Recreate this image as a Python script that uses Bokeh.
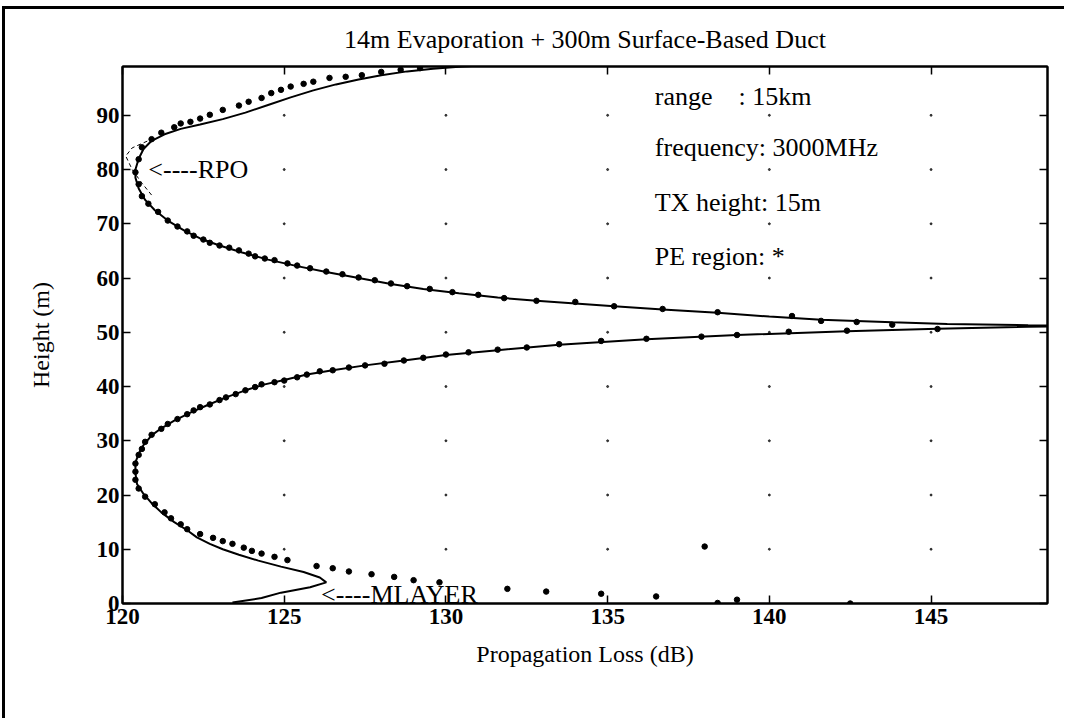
import numpy as np
from bokeh.plotting import figure
from bokeh.models import LinearAxis, FixedTicker, Range1d, Label
from bokeh.embed import file_html
from bokeh.resources import INLINE

# ---------------- data ----------------
title_text = "14m Evaporation + 300m Surface-Based Duct"
x_label = "Propagation Loss (dB)"
y_label = "Height (m)"
x_ticks = [120, 125, 130, 135, 140, 145]
y_ticks = [0, 10, 20, 30, 40, 50, 60, 70, 80, 90]

# hybrid model (solid line): loss (dB) vs height (m)
model_loss = [123.4, 124.3, 124.9, 125.8, 126.3, 126.1, 125.6, 124.9, 124.2, 123.6,
              123.1, 122.7, 122.3, 122.0, 121.6, 121.2, 120.9, 120.65, 120.45, 120.4,
              120.4, 120.5, 120.65, 120.9, 121.2, 121.6, 122.1, 122.6, 123.2, 123.8,
              124.4, 125.0, 125.7, 126.5, 127.5, 128.7, 130.0, 131.6, 133.5, 136.2,
              139.0, 142.4, 145.2, 148.0, 150.0,
              148.0, 145.5, 143.8, 141.6, 140.0, 138.4, 136.7, 135.2, 134.0, 132.8,
              131.6, 130.4, 129.3, 128.3, 127.3, 126.3, 125.4, 124.5, 123.7, 123.0,
              122.4, 121.9, 121.4, 121.0, 120.7, 120.5, 120.4, 120.4, 120.5, 120.65,
              120.9, 121.3, 121.8, 122.4, 123.1, 123.8, 124.5, 125.2, 125.9, 126.6,
              127.3, 128.0, 128.8, 129.6, 130.5, 131.5]
model_height = [0.2, 1.0, 2.0, 3.0, 3.9, 4.8, 5.8, 6.8, 7.9, 9.0,
                10.0, 11.0, 12.2, 13.5, 15.0, 16.8, 18.5, 20.2, 22.0, 24.0,
                26.0, 27.6, 29.2, 31.0, 32.3, 33.7, 35.2, 36.5, 38.0, 39.3,
                40.4, 41.2, 42.2, 43.0, 43.9, 44.8, 45.8, 46.7, 47.7, 48.7,
                49.5, 50.2, 50.65, 51.0, 51.15,
                51.3, 51.55, 51.85, 52.3, 52.9, 53.6, 54.2, 54.8, 55.3, 55.8,
                56.4, 57.2, 58.0, 58.9, 60.0, 61.1, 62.2, 63.4, 64.7, 66.0,
                67.3, 68.8, 70.6, 72.5, 74.4, 76.5, 78.5, 80.0, 82.0, 83.8,
                85.3, 86.5, 87.5, 88.3, 89.3, 90.5, 91.9, 93.3, 94.6, 95.7,
                96.6, 97.4, 98.1, 98.6, 99.0, 99.3]

# RPO (thin dashed) near the upper turning point
rpo_loss = [120.9, 120.6, 120.3, 120.1, 120.3, 120.9]
rpo_height = [75.3, 77.5, 80.0, 82.5, 84.0, 85.6]

# PE region points
pe_loss = [142.5, 139.0, 138.4, 136.5, 134.8, 133.1, 131.9, 129.8, 129.0, 128.4,
           127.7, 127.0, 126.5, 126.0, 125.1, 124.7, 124.3, 124.0, 123.75, 123.4,
           123.1, 122.8, 122.4, 122.0, 121.8, 121.5, 121.3, 121.0, 120.7, 120.5,
           120.4, 120.4, 120.4, 120.5, 120.6, 120.7, 120.9, 121.2, 121.4, 121.7,
           122.0, 122.2, 122.4, 122.7, 123.0, 123.2, 123.5, 123.8, 124.1, 124.3,
           124.7, 125.0, 125.4, 125.7, 126.1, 126.5, 127.0, 127.5, 128.1, 128.7,
           129.3, 130.0, 130.7, 131.6, 132.5, 133.5, 134.8, 136.2, 137.9, 139.0,
           140.6, 142.4, 145.2,
           143.8, 142.7, 141.6, 140.7, 138.4, 136.7, 135.2, 134.0, 132.8, 131.8,
           131.0, 130.2, 129.5, 128.8, 128.3, 127.8, 127.3, 126.8, 126.3, 125.8,
           125.4, 125.1, 124.7, 124.4, 124.1, 123.9, 123.6, 123.3, 123.0, 122.7,
           122.5, 122.2, 122.0, 121.7, 121.4, 121.1, 120.8, 120.6, 120.5, 120.4,
           120.5, 120.6, 120.9, 121.2, 121.6, 121.8, 122.1, 122.4, 122.7, 123.1,
           123.6, 123.9, 124.3, 124.6, 124.9, 125.2, 125.6, 125.9, 126.4, 126.9,
           127.4, 128.0, 128.6, 129.2, 138.0]
pe_height = [0.0, 0.7, 0.1, 1.3, 1.8, 2.2, 2.7, 3.9, 4.3, 4.9,
             5.4, 5.9, 6.5, 6.9, 8.0, 8.6, 9.2, 9.7, 10.3, 11.0,
             11.5, 12.1, 12.8, 13.7, 14.6, 15.7, 16.8, 18.3, 19.7, 21.2,
             22.8, 24.3, 25.8, 27.4, 28.5, 29.8, 31.1, 32.2, 33.1, 34.0,
             34.9, 35.6, 36.2, 36.7, 37.5, 38.0, 38.6, 39.3, 39.9, 40.4,
             40.8, 41.1, 41.7, 42.2, 42.8, 43.0, 43.5, 43.9, 44.2, 44.8,
             45.3, 45.9, 46.3, 46.8, 47.2, 47.8, 48.4, 48.8, 49.2, 49.5,
             50.1, 50.3, 50.6,
             51.4, 51.9, 52.1, 53.0, 53.7, 54.3, 54.8, 55.6, 55.8, 56.3,
             56.9, 57.4, 58.0, 58.5, 59.0, 59.6, 60.1, 60.7, 61.2, 61.8,
             62.3, 62.7, 63.3, 63.6, 64.0, 64.5, 65.1, 65.6, 66.0, 66.5,
             67.1, 67.8, 68.6, 69.5, 70.6, 72.2, 73.7, 75.1, 77.3, 79.5,
             81.9, 84.1, 85.6, 86.8, 87.8, 88.5, 88.8, 89.4, 90.1, 91.0,
             91.8, 92.5, 93.2, 94.1, 94.7, 95.3, 95.8, 96.2, 96.9, 97.1,
             97.4, 98.0, 98.4, 98.7, 10.5]

info_lines = ["range\u00a0\u00a0\u00a0\u00a0: 15km", "frequency: 3000MHz",
              "TX height: 15m", "PE region: *"]
rpo_text = "<----RPO"
mlayer_text = "<----MLAYER"

# ---------------- figure ----------------
FONT = "Liberation Serif"

p = figure(width=1062, height=712, output_backend="svg", toolbar_location=None,
           x_range=Range1d(120, 148.6), y_range=Range1d(0, 99),
           min_border_left=117, min_border_right=20, min_border_top=53,
           min_border_bottom=118, title=title_text)
p.styles = {"margin-top": "6px", "margin-left": "2px",
            "border-top": "3px solid black", "border-left": "3px solid black"}
p.background_fill_color = "white"
p.border_fill_color = "white"
p.outline_line_color = "black"
p.outline_line_width = 2
p.grid.visible = False

p.title.align = "center"
p.title.text_font = FONT
p.title.text_font_size = "26px"
p.title.text_font_style = "normal"
p.title.text_color = "black"
p.title.standoff = 26


def style_axis(ax):
    ax.axis_line_color = "black"
    ax.axis_line_width = 2
    ax.major_tick_in = 8
    ax.major_tick_out = 0
    ax.minor_tick_line_color = None
    ax.major_tick_line_color = "black"
    ax.major_tick_line_width = 1.5
    ax.major_label_text_font = FONT
    ax.major_label_text_font_size = "23px"
    ax.major_label_text_font_style = "bold"
    ax.major_label_text_color = "black"
    ax.axis_label_text_font = FONT
    ax.axis_label_text_font_size = "24px"
    ax.axis_label_text_font_style = "normal"
    ax.axis_label_text_color = "black"


xb = p.xaxis[0]
xb.ticker = FixedTicker(ticks=x_ticks)
xb.axis_label = x_label
style_axis(xb)
xb.major_label_standoff = 5
xb.axis_label_standoff = 14

yl = p.yaxis[0]
yl.ticker = FixedTicker(ticks=y_ticks)
yl.axis_label = y_label
style_axis(yl)
yl.major_label_standoff = 3
yl.axis_label_standoff = 40

xt = LinearAxis(ticker=FixedTicker(ticks=x_ticks),
                major_label_overrides={t: "" for t in x_ticks})
style_axis(xt)
xt.major_label_standoff = 0
p.add_layout(xt, "above")

yr = LinearAxis(ticker=FixedTicker(ticks=y_ticks),
                major_label_overrides={t: "" for t in y_ticks})
style_axis(yr)
yr.major_label_standoff = 0
p.add_layout(yr, "right")

# dotted grid: dots at tick intersections
gx, gy = np.meshgrid(x_ticks[1:], y_ticks[1:])
p.scatter(gx.ravel(), gy.ravel(), size=2, color="black", alpha=0.7)

# curves
p.line(model_loss, model_height, line_color="black", line_width=2)
p.line(rpo_loss, rpo_height, line_color="black", line_width=1, line_dash="4 3")
p.scatter(pe_loss, pe_height, size=5.5, color="black")

# annotations
info_y = [93.4, 84.1, 74.0, 64.0]
for txt, yy in zip(info_lines, info_y):
    p.add_layout(Label(x=136.46, y=yy, text=txt, text_font=FONT,
                       text_font_size="26px", text_baseline="middle",
                       text_align="left", text_color="black"))

p.add_layout(Label(x=120.8, y=80, text=rpo_text, text_font=FONT,
                   text_font_size="26px", text_baseline="middle", text_color="black"))
p.add_layout(Label(x=126.14, y=1.7, text=mlayer_text, text_font=FONT,
                   text_font_size="26px", text_baseline="middle", text_color="black"))

open("out.html", "w").write(file_html(p, INLINE))
